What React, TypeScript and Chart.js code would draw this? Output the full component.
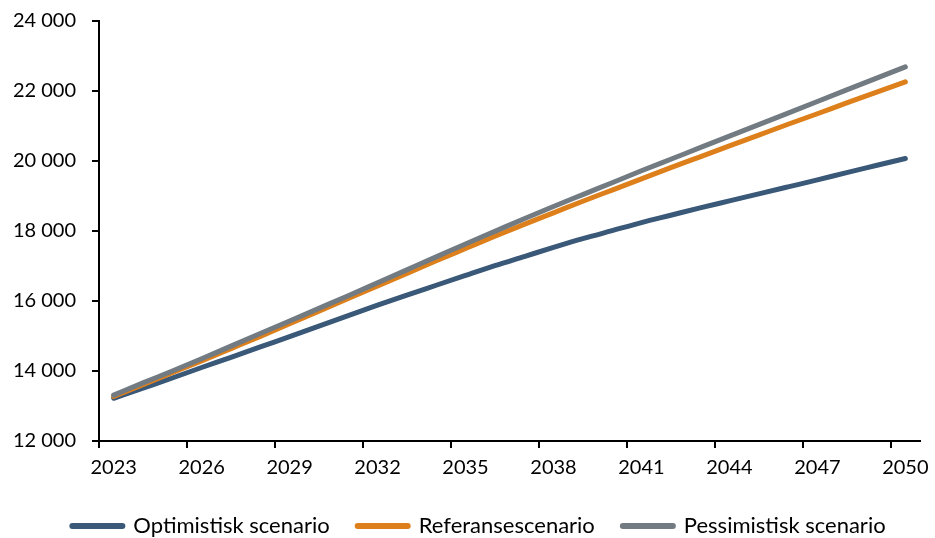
import React, { useEffect, useRef } from "react";
import { Chart, registerables } from "chart.js";

Chart.register(...registerables);

const years: string[] = [
  "2023", "2024", "2025", "2026", "2027", "2028", "2029", "2030", "2031", "2032",
  "2033", "2034", "2035", "2036", "2037", "2038", "2039", "2040", "2041", "2042",
  "2043", "2044", "2045", "2046", "2047", "2048", "2049", "2050",
];

const optimistisk: number[] = [
  13220, 13510, 13800, 14100, 14390, 14690, 14980, 15280, 15580, 15880,
  16170, 16450, 16730, 17010, 17270, 17530, 17780, 18010, 18240, 18450,
  18660, 18860, 19060, 19260, 19460, 19670, 19870, 20070,
];

const referanse: number[] = [
  13270, 13610, 13950, 14290, 14640, 14990, 15350, 15710, 16070, 16430,
  16790, 17150, 17500, 17850, 18190, 18520, 18850, 19170, 19490, 19810,
  20120, 20430, 20740, 21050, 21350, 21660, 21960, 22260,
];

const pessimistisk: number[] = [
  13310, 13660, 14000, 14350, 14710, 15070, 15430, 15790, 16150, 16520,
  16890, 17260, 17630, 17990, 18350, 18700, 19040, 19380, 19720, 20050,
  20380, 20710, 21040, 21370, 21700, 22030, 22360, 22690,
];

const seriesNames: string[] = ["Optimistisk scenario", "Referansescenario", "Pessimistisk scenario"];
const seriesColors: string[] = ["#3a5878", "#dd7f1a", "#737b82"];

const yMin = 12000;
const yMax = 24000;
const yStep = 2000;

const fmt = (v: number) => String(v).replace(/\B(?=(\d{3})+(?!\d))/g, " ");

export default function App() {
  const ref = useRef<HTMLCanvasElement | null>(null);

  useEffect(() => {
    document.body.style.margin = "0";
    const canvas = ref.current;
    if (!canvas) return;
    const data = [optimistisk, referanse, pessimistisk];
    const chart = new Chart(canvas, {
      type: "line",
      data: {
        labels: years,
        datasets: data.map((d, i) => ({
          label: seriesNames[i],
          data: d,
          borderColor: seriesColors[i],
          backgroundColor: seriesColors[i],
          borderWidth: 5,
          borderCapStyle: "round" as const,
          borderJoinStyle: "round" as const,
          pointRadius: 0,
          pointHoverRadius: 0,
          order: 2 - i,
          cubicInterpolationMode: "monotone" as const,
        })),
      },
      options: {
        animation: false,
        responsive: false,
        maintainAspectRatio: false,
        layout: { padding: { left: 38, right: 15, top: 21, bottom: -9 } },
        plugins: {
          tooltip: { enabled: false },
          legend: {
            position: "bottom",
            labels: {
              usePointStyle: true,
              pointStyle: "line",
              pointStyleWidth: 50,
              boxHeight: 6,
              padding: 28,
              color: "#000",
              font: { family: "Lato", size: 22 },
              sort: (a: any, b: any) => a.datasetIndex - b.datasetIndex,
              generateLabels: (ch: any) =>
                ch.data.datasets.map((ds: any, i: number) => ({
                  text: ds.label,
                  fillStyle: ds.borderColor,
                  strokeStyle: ds.borderColor,
                  lineWidth: 6,
                  lineCap: "round",
                  pointStyle: "line",
                  datasetIndex: i,
                  hidden: false,
                  fontColor: "#000",
                })),
            },
          },
        },
        scales: {
          x: {
            type: "category",
            offset: true,
            grid: {
              offset: true,
              drawOnChartArea: false,
              drawTicks: true,
              tickLength: 7,
              lineWidth: 2,
              color: (ctx: any) => (ctx.index % 3 === 0 ? "#000" : "rgba(0,0,0,0)"),
            },
            border: { color: "#000", width: 2 },
            ticks: {
              autoSkip: false,
              maxRotation: 0,
              padding: 8,
              color: "#000",
              font: { family: "Lato", size: 20 },
              callback: (_v: any, idx: number) => (idx % 3 === 0 ? years[idx] : ""),
            },
            afterFit: (s: any) => {
              s.height = 46;
              s.paddingLeft = 0;
              s.paddingRight = 0;
            },
          },
          y: {
            min: yMin,
            max: yMax,
            grid: {
              drawOnChartArea: false,
              drawTicks: true,
              tickLength: 7,
              lineWidth: 2,
              color: "#000",
            },
            border: { color: "#000", width: 2 },
            ticks: {
              stepSize: yStep,
              padding: 16,
              color: "#000",
              font: { family: "Lato", size: 20 },
              callback: (v: any) => fmt(Number(v)),
            },
            afterFit: (s: any) => {
              s.width = 61;
              s.paddingTop = 0;
              s.paddingBottom = 0;
              s._computeLabelArea = () => undefined;
            },
          },
        },
      },
    });
    return () => chart.destroy();
  }, []);

  return (
    <div style={{ width: 935, height: 538 }}>
      <canvas ref={ref} width={935} height={538} style={{ width: 935, height: 538 }} />
    </div>
  );
}
